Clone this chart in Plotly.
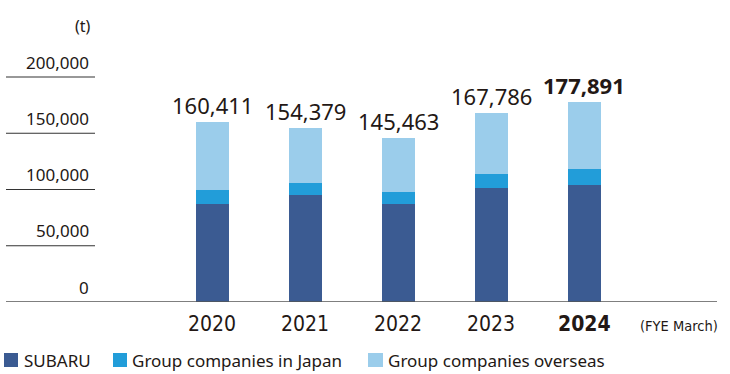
import plotly.graph_objects as go

years = ["2020", "2021", "2022", "2023", "2024"]
subaru = [87500, 95500, 87500, 101700, 103800]
group_japan = [12100, 10100, 10000, 12500, 14200]
totals = [160411, 154379, 145463, 167786, 177891]
group_overseas = [t - s - j for t, s, j in zip(totals, subaru, group_japan)]
total_labels = ["160,411", "154,379", "145,463", "167,786", "177,891"]
y_ticks = [0, 50000, 100000, 150000, 200000]
y_tick_labels = ["0", "50,000", "100,000", "150,000", "200,000"]
series_names = ["SUBARU", "Group companies in Japan", "Group companies overseas"]
colors = ["#3B5B92", "#229DD9", "#9BCDEB"]

W, H = 730, 374
ML, MR, MT, MB = 7, 13, 20, 72
PW, PH = W - ML - MR, H - MT - MB
NARROW = "Liberation Sans Narrow, DejaVu Sans Condensed, Arial Narrow, sans-serif"

def px_x(p):
    return (p - ML) / PW

def px_y(p):
    return (H - MB - p) / PH

fig = go.Figure()
for name, vals, c in zip(series_names, [subaru, group_japan, group_overseas], colors):
    fig.add_trace(go.Bar(
        x=years, y=vals, name=name, marker=dict(color=c, line=dict(width=0)),
        width=0.355, showlegend=False, hoverinfo="skip"))

ann = []
shapes = []
TXT = "#231815"
for i, (yr, t, lab) in enumerate(zip(years, totals, total_labels)):
    bold = (i == len(years) - 1)
    ann.append(dict(x=i, y=t, xref="x", yref="y", text=f"<b>{lab}</b>" if bold else lab,
                    showarrow=False, yanchor="middle", yshift=17,
                    font=dict(family="Noto Sans", size=22, color=TXT)))
    ann.append(dict(x=i, y=0, xref="x", yref="y", text=f"<b>{yr}</b>" if bold else yr,
                    showarrow=False, yanchor="middle", yshift=-22,
                    font=dict(family=NARROW, size=21, color=TXT)))

for v, lab in zip(y_ticks, y_tick_labels):
    ann.append(dict(x=px_x(91), y=v, xref="paper", yref="y", text=lab, showarrow=False,
                    xanchor="right", yanchor="middle", yshift=15,
                    font=dict(family="Noto Sans", size=17, color=TXT)))
    if v > 0:
        shapes.append(dict(type="line", xref="paper", yref="y", x0=px_x(6), x1=px_x(95),
                           y0=v, y1=v, line=dict(color="#333333", width=1.2)))
shapes.append(dict(type="line", xref="paper", yref="y", x0=px_x(6), x1=px_x(717),
                   y0=0, y1=0, line=dict(color="#555555", width=1.5)))

ann.append(dict(x=px_x(93), y=px_y(26), xref="paper", yref="paper", text="(t)", showarrow=False,
                xanchor="right", yanchor="middle",
                font=dict(family="Noto Sans", size=16, color=TXT)))
ann.append(dict(x=px_x(638), y=px_y(326), xref="paper", yref="paper", text="(FYE March)",
                showarrow=False, xanchor="left", yanchor="middle",
                font=dict(family=NARROW, size=14.5, color=TXT)))

leg_sq = [(4, 18), (113, 127), (368, 383)]
leg_tx = [22, 130, 386]
for (a, b), tx, name, c in zip(leg_sq, leg_tx, series_names, colors):
    shapes.append(dict(type="rect", xref="paper", yref="paper", x0=px_x(a), x1=px_x(b),
                       y0=px_y(367), y1=px_y(353), fillcolor=c, line=dict(width=0)))
    ann.append(dict(x=px_x(tx), y=px_y(360), xref="paper", yref="paper", text=name,
                    showarrow=False, xanchor="left", yanchor="middle",
                    font=dict(family="Noto Sans", size=17, color=TXT)))

fig.update_layout(
    width=W, height=H, barmode="stack",
    margin=dict(l=ML, r=MR, t=MT, b=MB, pad=0),
    paper_bgcolor="white", plot_bgcolor="white",
    xaxis=dict(type="category", range=[-2.212, 5.431], showticklabels=False, showgrid=False,
               zeroline=False, showline=False, ticks=""),
    yaxis=dict(range=[0, 250667], showticklabels=False, showgrid=False, zeroline=False,
               showline=False, ticks=""),
    annotations=ann, shapes=shapes, bargap=0,
)
fig.write_html("out.html", config={"displayModeBar": False},
               post_script="document.body.style.margin='0';document.body.style.overflow='hidden';")
